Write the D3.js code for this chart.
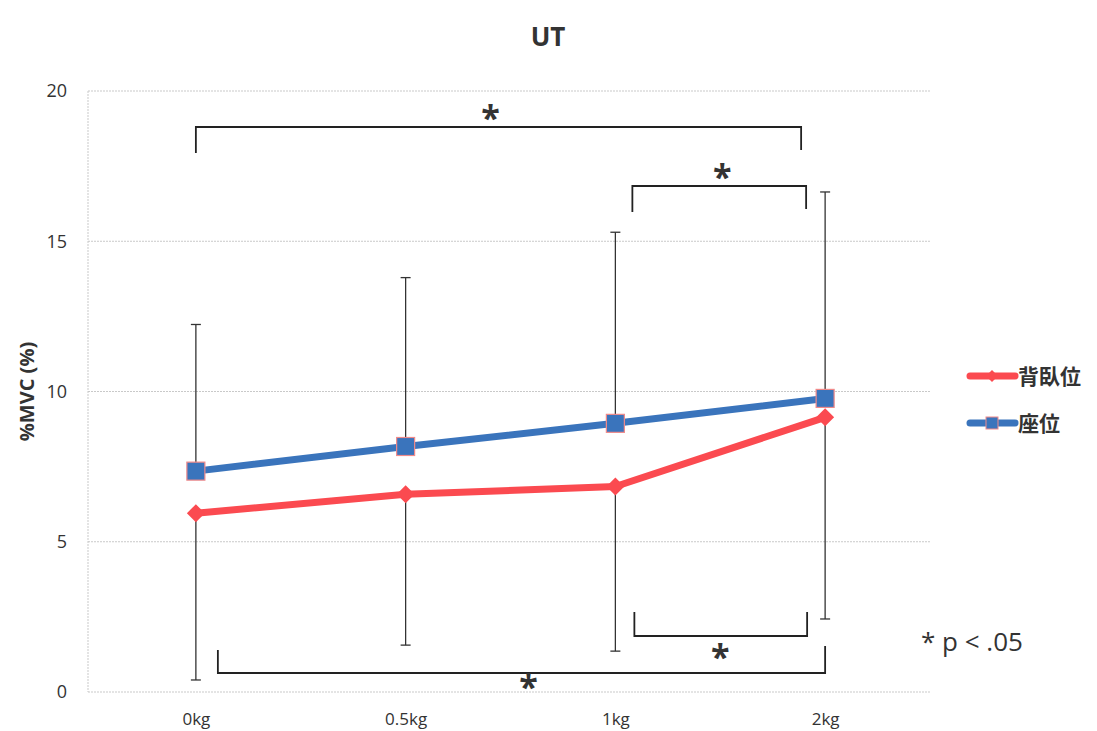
<!DOCTYPE html>
<html>
<head>
<meta charset="utf-8">
<script src="https://cdn.jsdelivr.net/npm/d3@7/dist/d3.min.js"></script>
<style>
  html, body { margin: 0; padding: 0; background: #fff; }
  svg { display: block; }
</style>
</head>
<body>
<svg id="chart" width="1097" height="731"></svg>
<script>
// Load conditions on the x axis
const categories = ["0kg", "0.5kg", "1kg", "2kg"];
// Mean %MVC per posture
const supine = [5.95, 6.58, 6.84, 9.14];   // 背臥位
const seated = [7.35, 8.17, 8.94, 9.77];   // 座位
// Error bar ends: seated shows the upper whisker, supine the lower one
const seatedUpper = [12.23, 13.79, 15.3, 16.64];
const supineLower = [0.4, 1.56, 1.36, 2.43];
const yTicks = [0, 5, 10, 15, 20];
const seriesNames = ["背臥位", "座位"];

const svg = d3.select("#chart");
const font = "'Open Sans', 'Noto Sans', sans-serif";
const cjk = "'Noto Sans CJK JP', sans-serif";

const plot = { left: 88, right: 930, top: 91, bottom: 692 };

const x = d3.scalePoint().domain(categories).range([plot.left + 3, plot.right]).padding(0.5);
const y = d3.scaleLinear().domain([0, 20]).range([plot.bottom, plot.top]);

const red = "#fb4a50";
const blue = "#3a74bc";

// Plot frame and gridlines (faint dotted)
const g = svg.append("g");
g.append("line")
  .attr("x1", plot.left).attr("x2", plot.left)
  .attr("y1", plot.top).attr("y2", plot.bottom)
  .attr("stroke", "#c9c9c9").attr("stroke-width", 1).attr("stroke-dasharray", "2,1");
g.selectAll("line.grid").data(yTicks).join("line")
  .attr("class", "grid")
  .attr("x1", plot.left).attr("x2", plot.right)
  .attr("y1", d => y(d)).attr("y2", d => y(d))
  .attr("stroke", "#c9c9c9").attr("stroke-width", 1).attr("stroke-dasharray", "2,1");

// Y axis labels
const yAxis = d3.axisLeft(y).tickValues(yTicks).tickSize(0).tickPadding(21);
const ya = svg.append("g").attr("transform", `translate(${plot.left},0)`).call(yAxis);
ya.select(".domain").remove();
ya.selectAll("text").attr("font-family", font).attr("font-size", 18).attr("fill", "#333");

// X axis labels
const xAxis = d3.axisBottom(x).tickSize(0).tickPadding(21);
const xa = svg.append("g").attr("transform", `translate(0,${plot.bottom})`).call(xAxis);
xa.select(".domain").remove();
xa.selectAll("text").attr("font-family", font).attr("font-size", 17).attr("fill", "#333");

// Error bars
function errorBars(means, ends) {
  const eg = svg.append("g").attr("stroke", "#333").attr("stroke-width", 1.3);
  categories.forEach((c, i) => {
    const cx = x(c);
    eg.append("line").attr("x1", cx).attr("x2", cx)
      .attr("y1", y(means[i])).attr("y2", y(ends[i]));
    eg.append("line").attr("x1", cx - 5).attr("x2", cx + 5)
      .attr("y1", y(ends[i])).attr("y2", y(ends[i]));
  });
}
errorBars(seated, seatedUpper);
errorBars(supine, supineLower);

// Series lines
const line = d3.line().x((d, i) => x(categories[i])).y(d => y(d));
svg.append("path").datum(supine).attr("d", line)
  .attr("fill", "none").attr("stroke", red).attr("stroke-width", 7).attr("stroke-linejoin", "round");
svg.append("path").datum(seated).attr("d", line)
  .attr("fill", "none").attr("stroke", blue).attr("stroke-width", 7).attr("stroke-linejoin", "round");

// Markers
const diamond = s => `M0,${-s}L${s},0L0,${s}L${-s},0Z`;
svg.append("g").selectAll("path").data(supine).join("path")
  .attr("d", diamond(9))
  .attr("transform", (d, i) => `translate(${x(categories[i])},${y(d)})`)
  .attr("fill", red);
svg.append("g").selectAll("rect").data(seated).join("rect")
  .attr("x", (d, i) => x(categories[i]) - 9)
  .attr("y", d => y(d) - 9)
  .attr("width", 18).attr("height", 18)
  .attr("fill", blue).attr("stroke", "#f08a8a").attr("stroke-width", 1.2);

// Significance brackets
const brk = svg.append("g").attr("fill", "none").attr("stroke", "#222").attr("stroke-width", 1.8);
function bracket(x1, x2, yH, yL, yR) {
  brk.append("path").attr("d", `M${x1},${yL}L${x1},${yH}L${x2},${yH}L${x2},${yR}`);
}
const xi = c => x(c);
bracket(xi("0kg"), xi("2kg") - 24, 127, 153, 150);
bracket(xi("1kg") + 17, xi("2kg") - 19, 186, 212, 209);
bracket(xi("1kg") + 19, xi("2kg") - 18, 636, 612, 612);
bracket(xi("0kg") + 22, xi("2kg"), 673, 650, 646);

// Asterisks marking significant pairs (cy = glyph centre)
const stars = [
  { cx: (xi("0kg") + xi("2kg") - 24) / 2 - 8, cy: 116 },
  { cx: (xi("1kg") + xi("2kg")) / 2 + 2, cy: 175 },
  { cx: (xi("1kg") + xi("2kg")) / 2, cy: 655 },
  { cx: (xi("0kg") + xi("2kg")) / 2 + 18, cy: 685 }
];
svg.append("g").selectAll("text").data(stars).join("text")
  .attr("x", d => d.cx).attr("y", d => d.cy + 14)
  .attr("text-anchor", "middle")
  .attr("font-family", font).attr("font-size", 34).attr("font-weight", "bold")
  .attr("fill", "#333").text("*");

// Title
svg.append("text").attr("x", 548).attr("y", 46).attr("text-anchor", "middle")
  .attr("font-family", font).attr("font-size", 26).attr("font-weight", "bold")
  .attr("fill", "#333").text("UT");

// Y axis title
svg.append("text")
  .attr("transform", `translate(34,${(plot.top + plot.bottom) / 2}) rotate(-90)`)
  .attr("text-anchor", "middle")
  .attr("font-family", font).attr("font-size", 20).attr("font-weight", "bold")
  .attr("fill", "#333").text("%MVC (%)");

// Legend
const leg = svg.append("g");
const legendY = [376, 423];
[red, blue].forEach((col, i) => {
  const ly = legendY[i];
  leg.append("line").attr("x1", 970).attr("x2", 1015).attr("y1", ly).attr("y2", ly)
    .attr("stroke", col).attr("stroke-width", 7).attr("stroke-linecap", "round");
  if (i === 0) {
    leg.append("path").attr("d", diamond(6)).attr("transform", `translate(992,${ly})`).attr("fill", col);
  } else {
    leg.append("rect").attr("x", 986).attr("y", ly - 6).attr("width", 12).attr("height", 12)
      .attr("fill", col).attr("stroke", "#f08a8a").attr("stroke-width", 1);
  }
  leg.append("text").attr("x", 1018).attr("y", ly + 8)
    .attr("font-family", cjk).attr("font-size", 21).attr("font-weight", "bold")
    .attr("fill", "#333").text(seriesNames[i]);
});

// Significance note
svg.append("text").attr("x", 921).attr("y", 651)
  .attr("font-family", font).attr("font-size", 26).attr("fill", "#333")
  .text("* p < .05");
</script>
</body>
</html>
